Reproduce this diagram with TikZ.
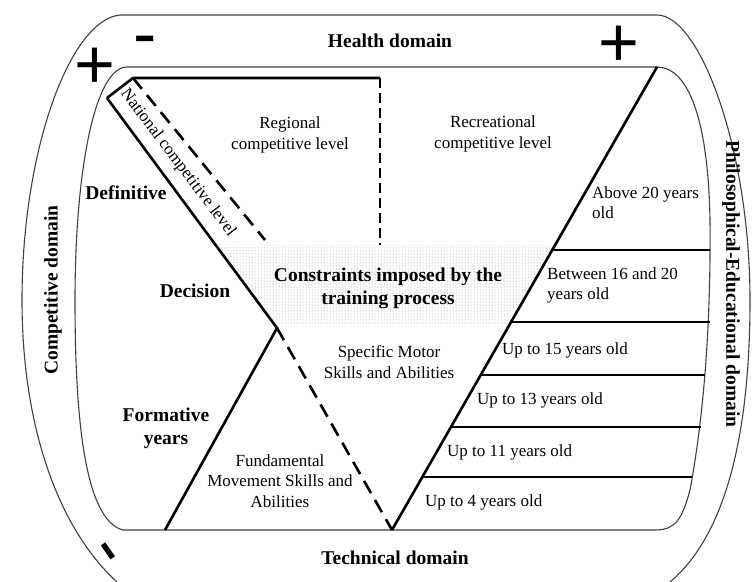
\documentclass[tikz,border=0pt]{standalone}
\usepackage{fontspec}
\setmainfont{Liberation Serif}
\newfontfamily\signfont{Liberation Sans}
\usetikzlibrary{patterns}
\begin{document}
\begin{tikzpicture}[x=1pt,y=-1pt,
  txt/.style={inner sep=0pt, font=\fontsize{17}{20.5}\selectfont, align=center},
  lbl/.style={inner sep=0pt, font=\fontsize{19.5}{23}\selectfont\bfseries, align=center},
  age/.style={inner sep=0pt, font=\fontsize{17}{20}\selectfont, align=left, anchor=west},
  sign/.style={inner sep=0pt, anchor=base, font=\signfont\fontsize{70}{70}\selectfont},
  thinline/.style={line width=1.1pt, draw=black!75},
  mainline/.style={line width=2.6pt, line cap=butt},
  longdash/.style={line width=2.6pt, dash pattern=on 14pt off 8pt},
  shortdash/.style={line width=2.6pt, dash pattern=on 10pt off 5pt},
]
\useasboundingbox (0,0) rectangle (752,581);

% key points
\coordinate (A) at (133,78);
\coordinate (B) at (380,78);
\coordinate (B2) at (380,245);
\coordinate (C) at (107,98);
\coordinate (D) at (277,328);
\coordinate (E) at (265,240);
\coordinate (F) at (165,530);
\coordinate (G) at (392,530);
\coordinate (H) at (657,67);

% dotted constraints band
\fill[pattern=dots, pattern color=black!45] (215.7,245) -- (555,245) -- (509.3,325) -- (274.8,325) -- cycle;

% outer domain band
\begin{scope}
\clip (0,0) rectangle (752,581);
\draw[thinline] (117,582) .. controls (60,530) and (22,430) .. (22,300)
  .. controls (22,150) and (70,20) .. (120,15) -- (657,15)
  .. controls (700,15) and (750,150) .. (750,300)
  .. controls (750,450) and (720,540) .. (670,582);
\end{scope}

% inner frame
\draw[thinline] (127,67) -- (657,67) .. controls (685,67) and (708,110) .. (710,220)
  .. controls (711,330) and (703,420) .. (690,490)
  .. controls (682,520) and (675,530) .. (655,530) -- (123,530)
  .. controls (85,520) and (75,420) .. (75,300)
  .. controls (75,170) and (95,67) .. (127,67) -- cycle;

% main structure
\draw[mainline, line join=miter] (C) -- (A) -- (B);
\draw[shortdash] (B) -- (B2);
\draw[longdash] (A) -- (E);
\draw[mainline, line join=miter] (C) -- (D) -- (F);
\draw[longdash] (D) -- (G);
\draw[mainline] (G) -- (H);

% age separators
\coordinate (h1a) at (552.3,250); \coordinate (h1b) at (710,250);
\coordinate (h2a) at (511,322);   \coordinate (h2b) at (710,322);
\coordinate (h3a) at (480.7,375); \coordinate (h3b) at (705,375);
\coordinate (h4a) at (451,427);   \coordinate (h4b) at (701,427);
\coordinate (h5a) at (422.3,477); \coordinate (h5b) at (692,477);
\draw[mainline] (h1a) -- (h1b);
\draw[mainline] (h2a) -- (h2b);
\draw[mainline] (h3a) -- (h3b);
\draw[mainline] (h4a) -- (h4b);
\draw[mainline] (h5a) -- (h5b);

% domain labels
\node[lbl] (health) at (390,41) {Health domain};
\node[lbl] (technical) at (395,558) {Technical domain};
\node[lbl, rotate=90] (competitive) at (53,290) {Competitive domain};
\node[lbl, rotate=-90] (philo) at (731,284) {Philosophical-Educational domain};

% signs
\node[sign] (plusA) at (94.5,88.7) {+};
\node[sign] (plusB) at (618.5,66.2) {+};
\node[sign] (minusA) at (145.5,57.7) {-};
\node[sign, rotate=-55] (minusB) at (93,561.7) {-};

% inner texts
\node[txt] (regional) at (290,135) {Regional\\competitive level};
\node[txt] (recreational) at (493,134) {Recreational\\competitive level};
\node[txt, rotate=-53] (national) at (178,163) {National competitive level};
\node[lbl] (definitive) at (126,193) {Definitive};
\node[lbl] (decision) at (195,291) {Decision};
\node[lbl] (constraints) at (388,288) {Constraints imposed by the\\training process};
\node[txt] (specific) at (389,362) {Specific Motor\\Skills and Abilities};
\node[lbl] (formative) at (166,428) {Formative\\years};
\node[txt] (fundamental) at (280,481) {Fundamental\\Movement Skills and\\Abilities};

% age labels
\node[age] (age20) at (592,203) {Above 20 years\\old};
\node[age] (age16) at (547,285) {Between 16 and 20\\years old};
\node[age] (age15) at (502,350) {Up to 15 years old};
\node[age] (age13) at (477,400) {Up to 13 years old};
\node[age] (age11) at (447,452) {Up to 11 years old};
\node[age] (age4) at (425,502) {Up to 4 years old};
\end{tikzpicture}
\end{document}
